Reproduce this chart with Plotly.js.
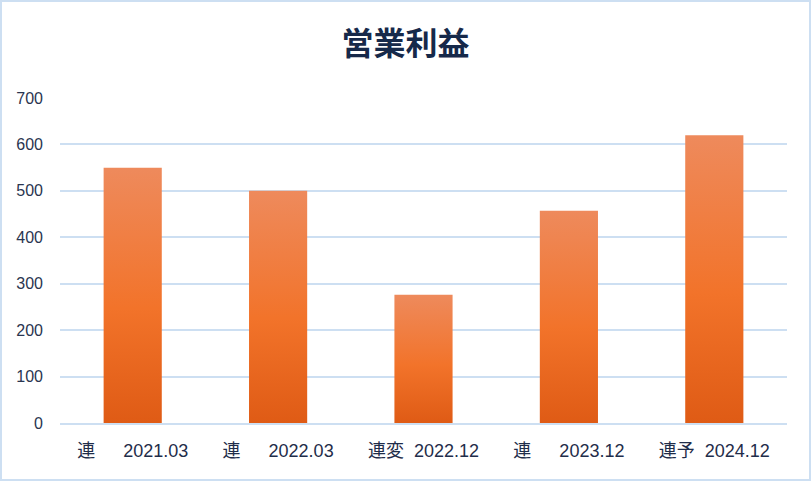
<!DOCTYPE html>
<html>
<head>
<meta charset="utf-8">
<script src="https://cdn.plot.ly/plotly-3.0.1.min.js"></script>
<style>
html,body{margin:0;padding:0;background:#fff;}
#wrap{width:811px;height:481px;box-sizing:border-box;border:2px solid #cddff2;background:#fff;}
#chart{width:807px;height:477px;}
</style>
</head>
<body>
<div id="wrap"><div id="chart"></div></div>
<script>
const categories = ["連\u3000\u00a0 2021.03", "連\u3000\u00a0 2022.03", "連変\u00a0 2022.12", "連\u3000\u00a0 2023.12", "連予\u00a0 2024.12"];
const operatingProfit = [550, 500, 276, 457, 620];
const yTicks = [0, 100, 200, 300, 400, 500, 600, 700];
const chartTitle = "営業利益";

const trace = {
  type: "bar",
  x: categories,
  y: operatingProfit,
  marker: {color: "#f07430", line: {width: 0}},
  hoverinfo: "x+y"
};

const layout = {
  width: 807,
  height: 477,
  margin: {l: 58, r: 22, t: 96, b: 56},
  paper_bgcolor: "#ffffff",
  plot_bgcolor: "#ffffff",
  bargap: 0.6,
  showlegend: false,
  font: {family: "Liberation Sans, Arial, Noto Sans CJK JP, sans-serif", color: "#1f2d4a"},
  title: {
    text: chartTitle,
    font: {family: "Noto Sans CJK JP, sans-serif", size: 32, color: "#16294a", weight: "bold"},
    x: 0.5, xanchor: "center",
    y: 0.912, yanchor: "middle", yref: "container"
  },
  xaxis: {
    type: "category",
    tickfont: {size: 18, color: "#1f2d4a"},
    showgrid: false,
    showline: true,
    linecolor: "#cddff2",
    linewidth: 2,
    ticks: "",
    ticklabelstandoff: 10,
    zeroline: false
  },
  yaxis: {
    range: [0, 700],
    tickvals: yTicks,
    tickfont: {size: 16, color: "#2a3550"},
    showgrid: true,
    gridcolor: "#cddff2",
    gridwidth: 2,
    zeroline: false,
    showline: false,
    ticks: "",
    ticklabelstandoff: 16
  }
};

Plotly.newPlot("chart", [trace], layout, {staticPlot: true, displayModeBar: false}).then(function(gd){
  const svg = gd.querySelector("svg.main-svg");
  const ns = "http://www.w3.org/2000/svg";
  let defs = svg.querySelector("defs");
  if (!defs) { defs = document.createElementNS(ns, "defs"); svg.insertBefore(defs, svg.firstChild); }
  const grad = document.createElementNS(ns, "linearGradient");
  grad.setAttribute("id", "barGrad");
  grad.setAttribute("x1", "0"); grad.setAttribute("y1", "0");
  grad.setAttribute("x2", "0"); grad.setAttribute("y2", "1");
  [["0", "#ee8a5c"], ["0.55", "#f2732a"], ["1", "#df5b15"]].forEach(function(s){
    const st = document.createElementNS(ns, "stop");
    st.setAttribute("offset", s[0]);
    st.setAttribute("stop-color", s[1]);
    grad.appendChild(st);
  });
  defs.appendChild(grad);
  gd.querySelectorAll(".bars .point path").forEach(function(p){
    p.style.fill = "url(#barGrad)";
  });
});
</script>
</body>
</html>
